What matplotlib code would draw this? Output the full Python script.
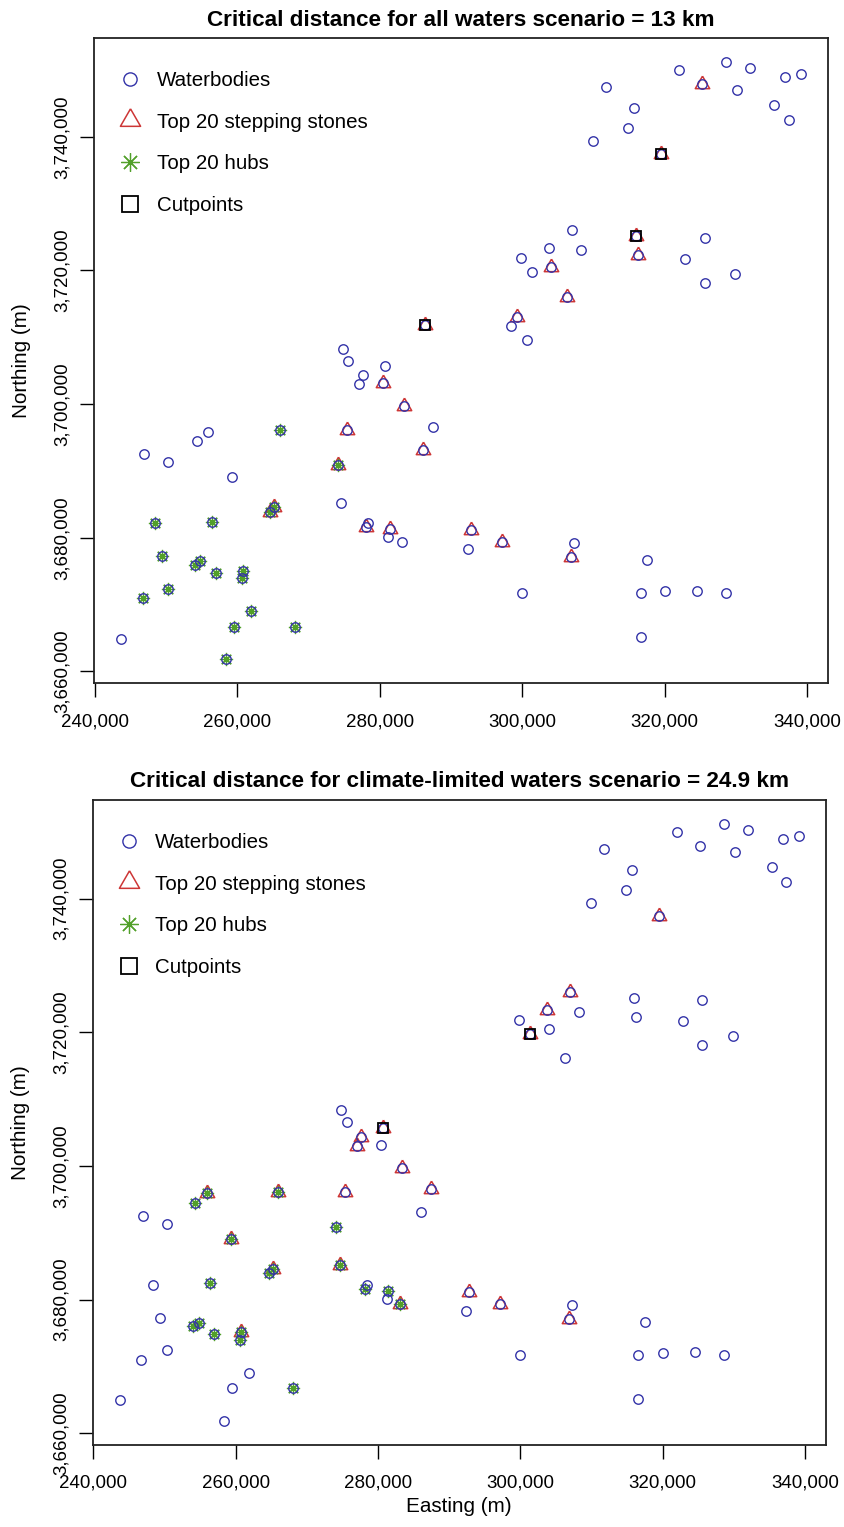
import matplotlib

matplotlib.use("Agg")
import matplotlib.pyplot as plt
import numpy as np
from matplotlib.ticker import FuncFormatter

plt.rcParams["font.family"] = ["Liberation Sans", "DejaVu Sans"]

# waterbody locations (UTM, metres)
easting = [
    322000, 328600, 332000, 336900, 339100, 311800, 325200, 330100, 315700, 335300,
    337400, 314900, 309900, 319500, 307000, 303700, 308300, 299800, 301300, 304000,
    316000, 316200, 325600, 322800, 325600, 329900, 306300, 299300, 298400, 300700,
    286300, 274800, 275600, 280700, 277600, 277100, 280400, 283400, 287400, 275400,
    266000, 286000, 246900, 250300, 254300, 255900, 259300, 274100, 274600, 264600,
    265200, 278100, 278400, 281400, 281200, 283100, 292800, 292400, 297200, 307200,
    306900, 317500, 299900, 316600, 320000, 324500, 328600, 316600, 243700, 248400,
    256400, 249400, 254000, 254800, 257000, 260800, 260600, 250300, 246700, 261900,
    259500, 268100, 258400,
]
northing = [
    3750000, 3751200, 3750300, 3748900, 3749400, 3747500, 3747900, 3747000, 3744300, 3744800,
    3742500, 3741300, 3739300, 3737400, 3726100, 3723300, 3723100, 3721900, 3719700, 3720500,
    3725100, 3722300, 3724900, 3721700, 3718100, 3719400, 3716100, 3713100, 3711700, 3709600,
    3711800, 3708300, 3706500, 3705700, 3704300, 3703000, 3703100, 3699700, 3696600, 3696100,
    3696100, 3693100, 3692500, 3691300, 3694500, 3695900, 3689100, 3690900, 3685200, 3683900,
    3684600, 3681600, 3682200, 3681300, 3680100, 3679300, 3681100, 3678300, 3679400, 3679200,
    3677100, 3676700, 3671700, 3671700, 3672000, 3672100, 3671700, 3665100, 3664900, 3682200,
    3682400, 3677300, 3676000, 3676500, 3674800, 3675100, 3674000, 3672400, 3671000, 3669000,
    3666700, 3666700, 3661800,
]

# waterbodies dropped in the climate-limited scenario (indices into the lists above)
climate_excluded = [27, 28, 29, 30]

# all waters scenario
all_stepping = [6, 13, 19, 20, 21, 26, 27, 30, 36, 37, 39, 41, 47, 49, 50, 51, 53, 56, 58, 60]
all_hubs = [40, 47, 49, 50, 69, 70, 71, 72, 73, 74, 75, 76, 77, 78, 79, 80, 81, 82]
all_cutpoints = [13, 20, 30]

# climate-limited waters scenario
clim_stepping = [13, 14, 15, 18, 33, 34, 35, 37, 38, 39, 40, 45, 46, 48, 50, 55, 56, 58, 60, 75]
clim_hubs = [40, 44, 45, 46, 47, 48, 49, 50, 51, 53, 55, 70, 72, 73, 74, 75, 76, 81]
clim_cutpoints = [18, 33]

titles = [
    "Critical distance for all waters scenario = 13 km",
    "Critical distance for climate-limited waters scenario = 24.9 km",
]

E = np.array(easting, dtype=float)
N = np.array(northing, dtype=float)

BLUE = "#3333a8"
RED = "#cd3636"
GREEN = "#52a02a"
TRI = [(0, 1), (-0.866, -0.5), (0.866, -0.5), (0, 1)]

comma = FuncFormatter(lambda v, _: f"{v:,.0f}")


def limits(v, frac=0.04):
    span = v.max() - v.min()
    return v.min() - frac * span, v.max() + frac * span


def draw_panel(ax, keep, stepping, hubs, cutpoints, title, xlabel=False):
    wb, = ax.plot(E[keep], N[keep], ls="none", marker="o", ms=6.8, mfc="none",
                  mec=BLUE, mew=1.0, zorder=4.5, label="Waterbodies")
    ss, = ax.plot(E[stepping], N[stepping], ls="none", marker=TRI, ms=12,
                  mfc="none", mec=RED, mew=1.1, zorder=2, label="Top 20 stepping stones")
    hb, = ax.plot(E[hubs], N[hubs], ls="none", marker=(8, 2, 0), ms=9.5,
                  mec=GREEN, mew=0.9, zorder=4, label="Top 20 hubs")
    cp, = ax.plot(E[cutpoints], N[cutpoints], ls="none", marker="s", ms=7.8,
                  mfc="none", mec="black", mew=1.3, zorder=5, label="Cutpoints")

    ax.set_xlim(*limits(E))
    ax.set_ylim(*limits(N))
    ax.set_xticks(np.arange(240000, 340001, 20000))
    ax.set_yticks(np.arange(3660000, 3740001, 20000))
    ax.xaxis.set_major_formatter(comma)
    ax.yaxis.set_major_formatter(comma)
    ax.tick_params(direction="out", length=10, width=1, labelsize=13.5)
    ax.tick_params(axis="x", pad=11.4)
    ax.tick_params(axis="y", pad=6.5)
    plt.setp(ax.get_yticklabels(), rotation=90, va="center")
    for sp in ax.spines.values():
        sp.set_linewidth(1.3)
        sp.set_color("#222222")

    ax.set_title(title, fontsize=16.2, fontweight="bold", pad=9)
    ax.set_ylabel("Northing (m)", fontsize=14.9)
    ax.yaxis.set_label_coords(-0.086, 0.5)
    if xlabel:
        ax.set_xlabel("Easting (m)", fontsize=14.9)
        ax.xaxis.set_label_coords(0.5, -0.08)

    ax.legend(handles=[wb, ss, hb, cp], loc="upper left", bbox_to_anchor=(0.035, 0.949),
              frameon=False, fontsize=14.8, markerscale=1.4, handlelength=1.0,
              handletextpad=0.8, labelspacing=1.1, borderpad=0, borderaxespad=0)


fig = plt.figure(figsize=(8.44, 15.27), dpi=100)
ax_top = fig.add_axes([0.1114, 0.5525, 0.8697, 0.4226])
ax_bot = fig.add_axes([0.1098, 0.0537, 0.8685, 0.4224])

keep_all = np.arange(len(E))
keep_clim = np.setdiff1d(keep_all, climate_excluded)

draw_panel(ax_top, keep_all, all_stepping, all_hubs, all_cutpoints, titles[0])
draw_panel(ax_bot, keep_clim, clim_stepping, clim_hubs, clim_cutpoints, titles[1], xlabel=True)

fig.savefig("out.png", dpi=100)
